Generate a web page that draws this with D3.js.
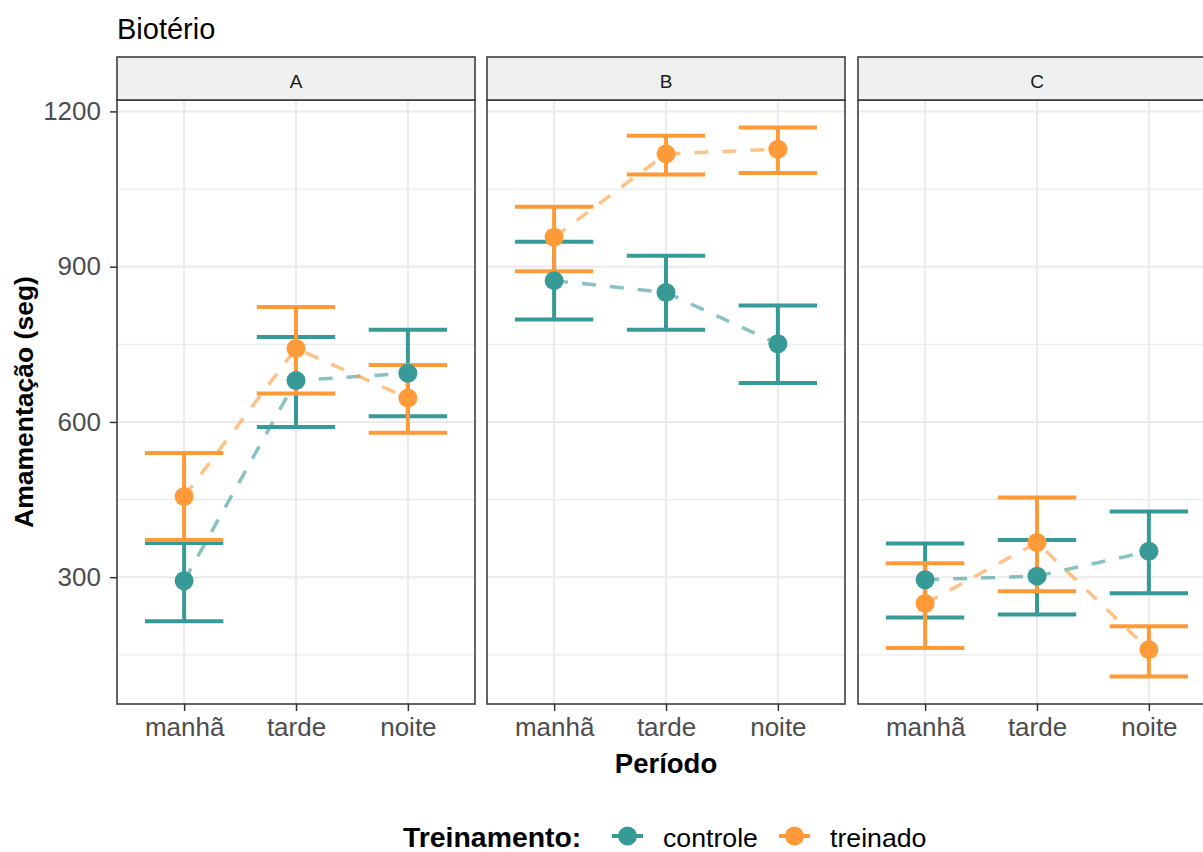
<!DOCTYPE html>
<html><head><meta charset="utf-8">
<script src="https://cdn.jsdelivr.net/npm/d3@7"></script>
<style>body{margin:0;background:#fff}svg{display:block}</style>
</head><body>
<svg id="chart" width="1203" height="852"></svg>
<script>
const facets = ["A","B","C"];
const periods = ["manhã","tarde","noite"];
const groups = ["controle","treinado"];
const yTicks = [300,600,900,1200];
// mean, lower, upper per facet x period
const controleMean = {A:[293,680,694], B:[873,850,751], C:[295,302,350]};
const controleLow  = {A:[215,590,611], B:[798,778,675], C:[222,228,269]};
const controleHigh = {A:[366,764,778], B:[948,921,825], C:[365,372,427]};
const treinadoMean = {A:[456,742,646], B:[957,1118,1127], C:[249,367,160]};
const treinadoLow  = {A:[372,655,579], B:[891,1078,1081], C:[163,273,108]};
const treinadoHigh = {A:[540,822,710], B:[1016,1153,1169], C:[327,454,205]};

const colors = {controle:"#389a97", treinado:"#fe9a38"};
const series = {
  controle:{mean:controleMean, low:controleLow, high:controleHigh},
  treinado:{mean:treinadoMean, low:treinadoLow, high:treinadoHigh}
};

const svg = d3.select("#chart");
const font = "'Liberation Sans', Arial, sans-serif";
const panelTop = 100, panelBottom = 704, stripTop = 57;
const panelLefts = [117, 487, 858], panelW = 358;

const allVals = [];
groups.forEach(g=>facets.forEach(f=>{allVals.push(...series[g].low[f], ...series[g].high[f]);}));
const lo = d3.min(allVals), hi = d3.max(allVals), pad = (hi-lo)*0.05;
const y = d3.scaleLinear().domain([lo-pad, hi+pad]).range([panelBottom, panelTop]);
const minorTicks = [150,450,750,1050];

svg.append("text").attr("x",117).attr("y",39).attr("font-family",font).attr("font-size",29)
  .attr("fill","#000").text("Biotério");

facets.forEach((f,fi)=>{
  const x0 = panelLefts[fi];
  const x = d3.scalePoint().domain(periods).range([x0, x0+panelW]).padding(0.6);
  const step = x.step();
  const g = svg.append("g");
  // grid
  minorTicks.forEach(t=>g.append("line").attr("x1",x0).attr("x2",x0+panelW).attr("y1",y(t)).attr("y2",y(t))
    .attr("stroke","#ebebeb").attr("stroke-width",1.2));
  yTicks.forEach(t=>g.append("line").attr("x1",x0).attr("x2",x0+panelW).attr("y1",y(t)).attr("y2",y(t))
    .attr("stroke","#ebebeb").attr("stroke-width",2));
  periods.forEach(p=>g.append("line").attr("x1",x(p)).attr("x2",x(p)).attr("y1",panelTop).attr("y2",panelBottom)
    .attr("stroke","#ebebeb").attr("stroke-width",2));
  // lines
  groups.forEach(gr=>{
    const pts = periods.map((p,i)=>[x(p), y(series[gr].mean[f][i])]);
    g.append("path").attr("d", d3.line()(pts)).attr("fill","none").attr("stroke",colors[gr])
      .attr("stroke-opacity",0.6).attr("stroke-width",3.5).attr("stroke-dasharray","14,14");
  });
  // error bars
  groups.forEach(gr=>{
    periods.forEach((p,i)=>{
      const cx = x(p), hw = step*0.35;
      const yl = y(series[gr].low[f][i]), yh = y(series[gr].high[f][i]);
      g.append("line").attr("x1",cx).attr("x2",cx).attr("y1",yl).attr("y2",yh).attr("stroke",colors[gr]).attr("stroke-width",4);
      [yl,yh].forEach(yy=>g.append("line").attr("x1",cx-hw).attr("x2",cx+hw).attr("y1",yy).attr("y2",yy)
        .attr("stroke",colors[gr]).attr("stroke-width",4));
    });
  });
  groups.forEach(gr=>{
    periods.forEach((p,i)=>{
      g.append("circle").attr("cx",x(p)).attr("cy",y(series[gr].mean[f][i])).attr("r",9.5).attr("fill",colors[gr]);
    });
  });
  // border
  g.append("rect").attr("x",x0).attr("y",panelTop).attr("width",panelW).attr("height",panelBottom-panelTop)
    .attr("fill","none").attr("stroke","#333").attr("stroke-width",1.5);
  // strip
  g.append("rect").attr("x",x0).attr("y",stripTop).attr("width",panelW).attr("height",panelTop-stripTop)
    .attr("fill","#f0f0f0").attr("stroke","#333").attr("stroke-width",1.5);
  g.append("text").attr("x",x0+panelW/2).attr("y",88).attr("text-anchor","middle")
    .attr("font-family",font).attr("font-size",19).attr("fill","#1a1a1a").text(f);
  // x axis
  const xa = svg.append("g").attr("transform",`translate(0,${panelBottom})`)
    .call(d3.axisBottom(x).tickSize(7).tickPadding(7));
  xa.select(".domain").remove();
  xa.selectAll(".tick line").attr("stroke","#333").attr("stroke-width",1.5);
  xa.selectAll(".tick text").attr("font-family",font).attr("font-size",26).attr("fill","#4d4d4d");
});

// y axis
const ya = svg.append("g").attr("transform",`translate(${panelLefts[0]},0)`)
  .call(d3.axisLeft(y).tickValues(yTicks).tickFormat(d3.format("d")).tickSize(7).tickPadding(9));
ya.select(".domain").remove();
ya.selectAll(".tick line").attr("stroke","#333").attr("stroke-width",1.5);
ya.selectAll(".tick text").attr("font-family",font).attr("font-size",26).attr("fill","#4d4d4d");

svg.append("text").attr("transform",`translate(33,${(panelTop+panelBottom)/2}) rotate(-90)`)
  .attr("text-anchor","middle").attr("font-family",font).attr("font-size",26.5).attr("font-weight","bold")
  .text("Amamentação (seg)");
svg.append("text").attr("x",666).attr("y",773).attr("text-anchor","middle").attr("font-family",font)
  .attr("font-size",27.5).attr("font-weight","bold").text("Período");

// legend
const lg = svg.append("g");
lg.append("text").attr("x",403).attr("y",847).attr("font-family",font).attr("font-size",28.4).attr("font-weight","bold").text("Treinamento:");
const keyX = [612, 779], labX = [663, 830];
groups.forEach((gr,i)=>{
  lg.append("line").attr("x1",keyX[i]).attr("x2",keyX[i]+31).attr("y1",836).attr("y2",836).attr("stroke",colors[gr]).attr("stroke-width",4);
  lg.append("circle").attr("cx",keyX[i]+15.5).attr("cy",836).attr("r",9.5).attr("fill",colors[gr]);
  lg.append("text").attr("x",labX[i]).attr("y",847).attr("font-family",font).attr("font-size",26.7).text(gr);
});
</script>
</body></html>
